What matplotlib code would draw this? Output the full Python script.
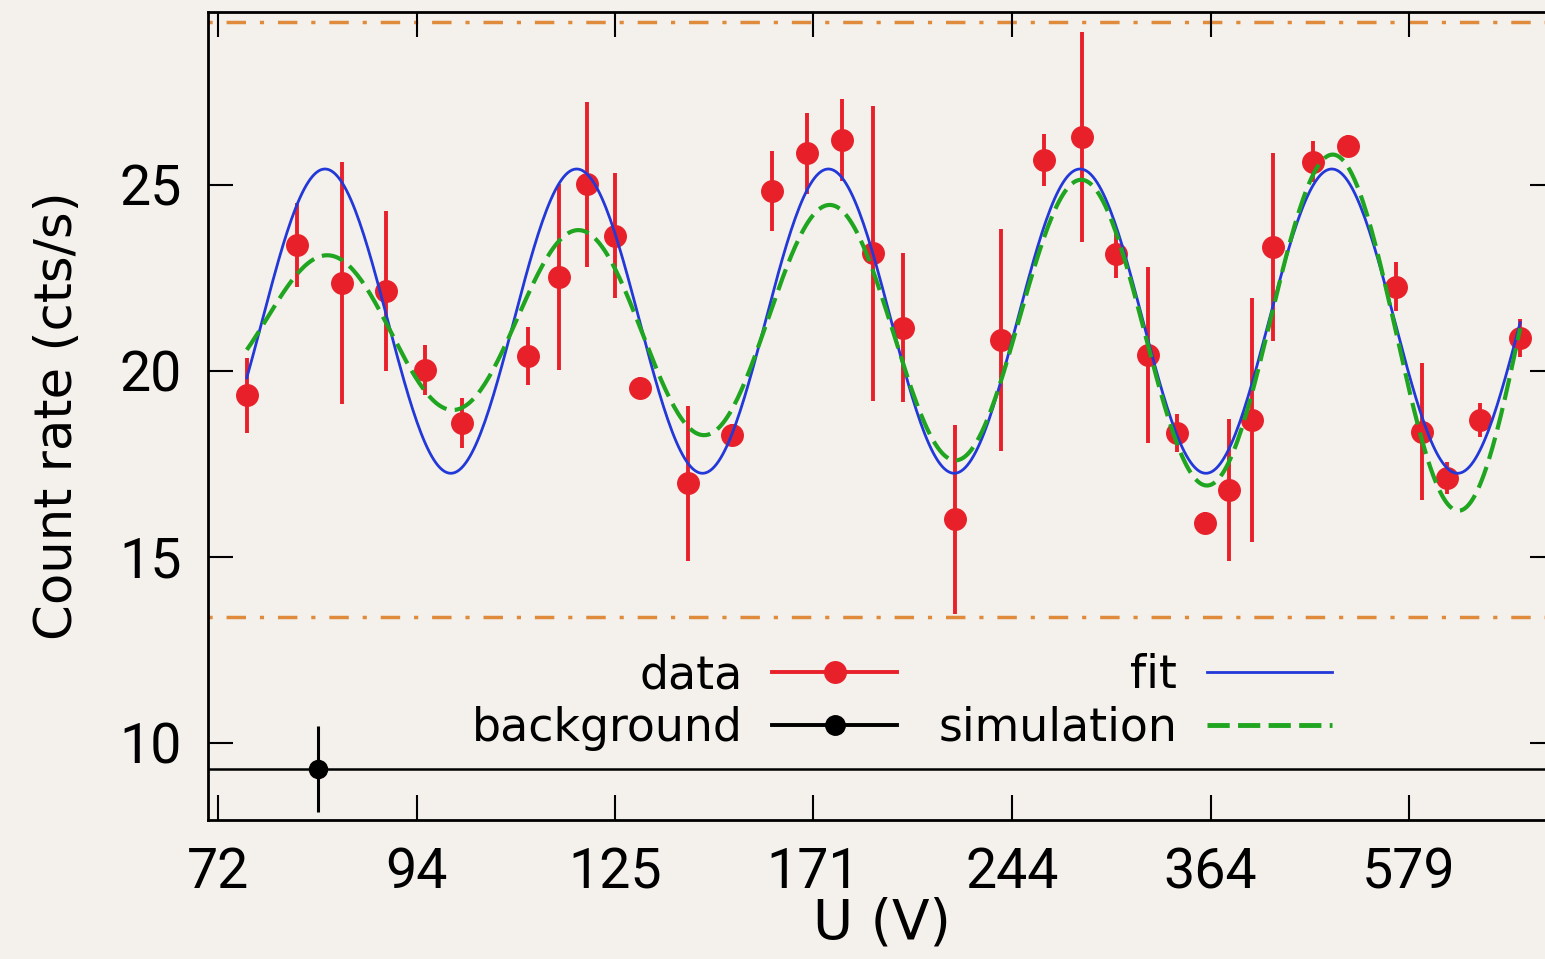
import numpy as np
import matplotlib
matplotlib.use("Agg")
import matplotlib.pyplot as plt
from matplotlib import font_manager
from matplotlib.lines import Line2D

# U axis: tick marks are evenly spaced, so positions are kept in tick units
tick_pos = [0, 1, 2, 3, 4, 5, 6]
tick_labels = ["72", "94", "125", "171", "244", "364", "579"]
y_ticks = [10, 15, 20, 25]

# measured count rates (cts/s)
data_x = [0.145, 0.396, 0.626, 0.846, 1.043, 1.229, 1.562, 1.718, 1.860, 2.000,
          2.126, 2.369, 2.588, 2.789, 2.969, 3.142, 3.301, 3.452, 3.713, 3.945,
          4.163, 4.354, 4.524, 4.687, 4.833, 4.970, 5.093, 5.208, 5.316, 5.518,
          5.694, 5.933, 6.064, 6.193, 6.358, 6.559]
data_y = [19.35, 23.39, 22.37, 22.15, 20.03, 18.60, 20.40, 22.53, 25.02, 23.64,
          19.55, 16.98, 18.28, 24.84, 25.85, 26.21, 23.16, 21.16, 16.01, 20.84,
          25.68, 26.30, 23.14, 20.43, 18.33, 15.91, 16.80, 18.68, 23.34, 25.63,
          26.05, 22.27, 18.37, 17.12, 18.68, 20.88]
data_err = [1.01, 1.13, 3.25, 2.16, 0.67, 0.67, 0.77, 2.50, 2.22, 1.68,
            0.30, 2.08, 0.30, 1.08, 1.08, 1.10, 3.97, 2.00, 2.55, 2.98,
            0.70, 2.82, 0.65, 2.37, 0.51, 0.30, 1.91, 3.29, 2.53, 0.56,
            0.30, 0.65, 1.85, 0.43, 0.45, 0.51]

# background measurement
bg_x = [0.504]
bg_y = [9.30]
bg_err = [1.16]
bg_level = 9.30

# fit and simulation parameters
fit_mean, fit_amp = 21.34, 4.09
period, peak_x = 1.268, 0.539
sim_mean, sim_amp0, sim_amp_slope = 21.2, 1.62, 0.534
curve_start, curve_end = 0.145, 6.56

# contrast limits (dash-dot lines)
limits = [29.38, 13.39]

names = {f.name for f in font_manager.fontManager.ttflist}
tick_font = "Roboto" if "Roboto" in names else "DejaVu Sans"

plt.rcParams["lines.scale_dashes"] = False
bg_color = "#f4f1ec"

W, H = 1545, 959
fig = plt.figure(figsize=(W / 100, H / 100), dpi=100, facecolor=bg_color)
left, right, top, bottom = 208, 1555, 12, 820
ax = fig.add_axes([left / W, (H - bottom) / H, (right - left) / W, (bottom - top) / H])
ax.set_facecolor(bg_color)

red = "#e8202a"
blue = "#2238d8"
green = "#1fa51f"
orange = "#e08a3c"

for lv in limits:
    ax.axhline(lv, color=orange, lw=2.5, dashes=(3, 10, 14, 10), zorder=1)

ax.axhline(bg_level, color="black", lw=1.8, zorder=2)
ax.errorbar(bg_x, bg_y, yerr=bg_err, fmt="o", color="black", ms=13,
            elinewidth=2.2, capsize=0, zorder=3)

ax.errorbar(data_x, data_y, yerr=data_err, fmt="o", color=red, ms=15.5,
            elinewidth=2.8, capsize=0, zorder=3)

xs = np.linspace(curve_start, curve_end, 600)
phase = 2 * np.pi * (xs - peak_x) / period
fit_y = fit_mean + fit_amp * np.cos(phase)
sim_y = sim_mean + (sim_amp0 + sim_amp_slope * xs) * np.cos(phase)
ax.plot(xs, fit_y, color=blue, lw=2.0, zorder=4)
ax.plot(xs, sim_y, color=green, lw=3.0, dashes=(16, 6), zorder=4)

ax.set_xlim(-10 / 198.5, (right - 218) / 198.5)
ax.set_ylim(7.93, 29.65)
ax.set_xticks(tick_pos)
ax.set_xticklabels(tick_labels)
ax.set_yticks(y_ticks)
ax.minorticks_off()
ax.tick_params(direction="in", length=18, width=1.5, top=True, right=True,
               labelsize=40, pad=19)
for lab in ax.get_xticklabels() + ax.get_yticklabels():
    lab.set_fontfamily(tick_font)
for sp in ax.spines.values():
    sp.set_linewidth(2.0)

ax.set_xlabel("U (V)", fontsize=39.5, va="top")
ax.xaxis.set_label_coords(0.5, -0.095)
ax.set_ylabel("Count rate (cts/s)", fontsize=37)
ax.yaxis.set_label_coords(-0.093, 0.5)

handles = [
    Line2D([], [], color=red, lw=2.8, marker="o", ms=15.5),
    Line2D([], [], color="black", lw=2.8, marker="o", ms=14),
    Line2D([], [], color=blue, lw=2.0),
    Line2D([], [], color=green, lw=3.5, dashes=(16, 6)),
]
labels = ["data", "background", "fit", "simulation"]
ax.legend(handles, labels, loc="center", bbox_to_anchor=(0.515, 0.146),
          ncol=2, frameon=False, markerfirst=False, fontsize=33,
          handlelength=2.73, handletextpad=0.65, columnspacing=0.89,
          labelspacing=0.17, borderpad=0, borderaxespad=0)

fig.savefig("out.png", dpi=100, facecolor=bg_color)
